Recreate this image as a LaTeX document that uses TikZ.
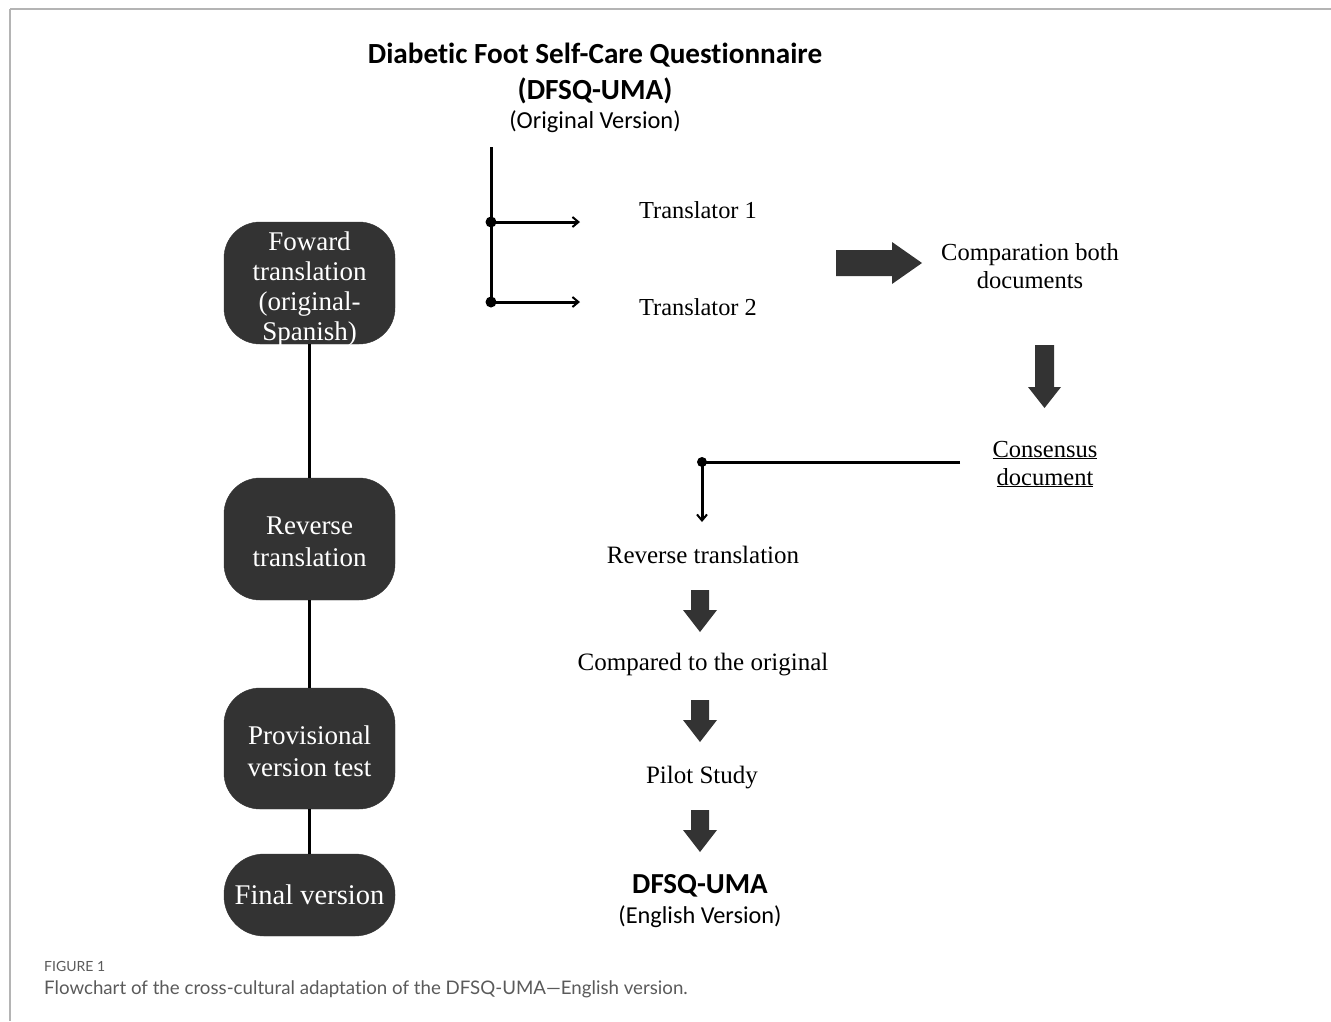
\documentclass[tikz,border=0pt]{standalone}
\usepackage{fontspec}
\setmainfont{Liberation Serif}
\newfontfamily\calib[Ligatures=NoCommon]{Carlito}
\newfontfamily\capfont[Ligatures=NoCommon]{Lato}
\usetikzlibrary{arrows.meta}
\definecolor{boxfill}{HTML}{333333}
\definecolor{framegray}{HTML}{B4B4B4}
\definecolor{capgray}{HTML}{5A5A5A}
\tikzset{
  stepbox/.style={draw=boxfill, fill=boxfill, rounded corners=36pt,
    minimum width=171pt, inner sep=0pt},
  boxtxt/.style={align=center, inner sep=0pt, text=white, font=\fontsize{27}{32}\selectfont},
  plain/.style={align=center, inner sep=0pt, font=\fontsize{24.5}{28}\selectfont},
  flowtxt/.style={align=center, inner sep=0pt, font=\fontsize{25}{28}\selectfont},
  conn/.style={line width=3pt, draw=black},
  vconn/.style={line width=2.2pt, draw=black},
  arr/.style={conn, -{Straight Barb[length=6pt,width=10pt,line width=2pt]}},
  fat/.style={fill=boxfill, draw=none},
  dot/.style={circle, fill=black, inner sep=0pt, minimum size=11pt},
}
\begin{document}
\begin{tikzpicture}[x=1pt,y=-1pt]
\useasboundingbox (0,0) rectangle (1331,1021);
% frame
\draw[framegray, line width=2pt] (10,9) -- (1331,9);
\draw[framegray, line width=1.5pt] (10,9) -- (10,1021);

% title
\node[align=center, inner sep=0pt, font=\calib\bfseries\fontsize{29.2}{36}\selectfont] (title) at (595,73.5)
  {Diabetic Foot Self-Care Questionnaire\\(DFSQ-UMA)};
\node[inner sep=0pt, font=\calib\fontsize{24.4}{28}\selectfont] (orig) at (595,121.5) {(Original Version)};

% left column boxes
\node[stepbox, minimum height=122pt] (b1) at (309.5,283) {};
\node[boxtxt, font=\fontsize{27}{30}\selectfont] (b1t) at (309.5,289) {Foward\\translation\\(original-\\Spanish)};
\node[stepbox, minimum height=122pt] (b2) at (309.5,539) {};
\node[boxtxt] (b2t) at (309.5,542) {Reverse\\translation};
\node[stepbox, minimum height=121pt] (b3) at (309.5,748.5) {};
\node[boxtxt] (b3t) at (309.5,751) {Provisional\\version test};
\node[stepbox, minimum height=82pt, rounded corners=40pt] (b4) at (309.5,895) {};
\node[boxtxt, font=\fontsize{28.5}{32}\selectfont] (b4t) at (309.5,895) {Final version};
\draw[vconn] (b1.south) -- (b2.north);
\draw[vconn] (b2.south) -- (b3.north);
\draw[vconn] (b3.south) -- (b4.north);

% translators bracket
\coordinate (brtop) at (491,147);
\node[dot] (d1) at (491,222) {};
\node[dot] (d2) at (491,302) {};
\coordinate (t1end) at (580,222);
\coordinate (t2end) at (580,302);
\draw[conn] (brtop) -- (d2.center);
\draw[arr] (d1.center) -- (t1end);
\draw[arr] (d2.center) -- (t2end);
\node[plain, font=\fontsize{24.4}{28}\selectfont] (tr1) at (698,210) {Translator 1};
\node[plain, font=\fontsize{24.4}{28}\selectfont] (tr2) at (698,307) {Translator 2};

% fat arrow right
\fill[fat] (836,250) -- (892,250) -- (892,242) -- (922,263) -- (892,284) -- (892,276) -- (836,276) -- cycle;
\node[plain] (comp) at (1030,266) {Comparation both\\documents};

% fat arrow down
\fill[fat] (1035,345) -- (1054,345) -- (1054,387) -- (1061,387) -- (1044.5,408) -- (1028,387) -- (1035,387) -- cycle;
\node[plain] (cons) at (1045,464) {\underline{Consensus}\\\underline{document}};

% consensus -> reverse translation
\coordinate (cstart) at (960,462);
\node[dot, minimum size=10pt] (d3) at (702,462) {};
\coordinate (rvend) at (702,522);
\draw[conn] (cstart) -- (d3.center);
\draw[arr] (d3.center) -- (rvend);

\node[flowtxt] (rev) at (703,555) {Reverse translation};
\fill[fat] (691,590) -- (709,590) -- (709,610) -- (717,610) -- (700,632) -- (683,610) -- (691,610) -- cycle;
\node[flowtxt] (cmp) at (703,665) {Compared to the original};
\fill[fat] (691,700) -- (709,700) -- (709,720) -- (717,720) -- (700,742) -- (683,720) -- (691,720) -- cycle;
\node[flowtxt] (pilot) at (702,778) {Pilot Study};
\fill[fat] (691,810) -- (709,810) -- (709,830) -- (717,830) -- (700,852) -- (683,830) -- (691,830) -- cycle;
\node[inner sep=0pt, font=\calib\bfseries\fontsize{29}{32}\selectfont] (final) at (700,886) {DFSQ-UMA};
\node[inner sep=0pt, font=\calib\fontsize{24.3}{28}\selectfont] (eng) at (700,917) {(English Version)};

% caption
\node[anchor=west, inner sep=0pt, text=capgray, font=\capfont\fontsize{14}{16}\selectfont] (figlbl) at (44,966) {FIGURE 1};
\node[anchor=west, inner sep=0pt, text=capgray, font=\capfont\fontsize{18.7}{22}\selectfont] (cap) at (44,989)
  {Flowchart of the cross-cultural adaptation of the DFSQ-UMA—English version.};
\end{tikzpicture}
\end{document}
